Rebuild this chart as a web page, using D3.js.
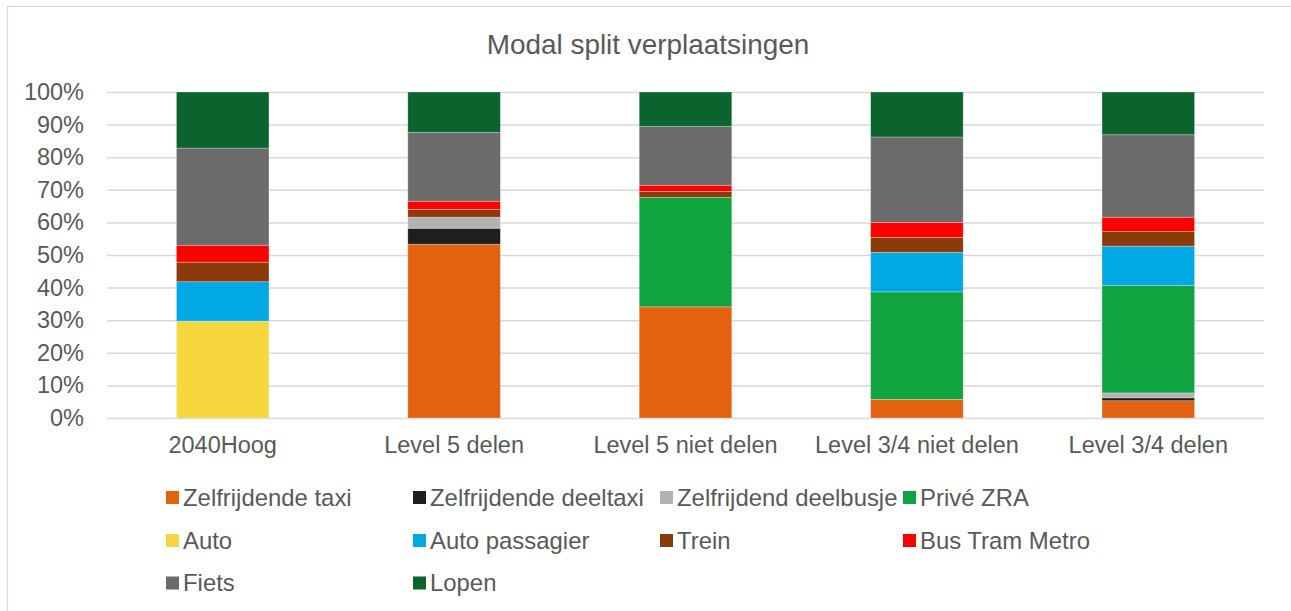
<!DOCTYPE html>
<html>
<head>
<meta charset="utf-8">
<script src="https://cdn.jsdelivr.net/npm/d3@7"></script>
<style>
  body { margin: 0; background: #fff; }
  text { font-family: "Liberation Sans", Arial, sans-serif; fill: #595959; }
</style>
</head>
<body>
<div id="chart"></div>
<script>
// data (percent of trips)
let categories = ["2040Hoog", "Level 5 delen", "Level 5 niet delen", "Level 3/4 niet delen", "Level 3/4 delen"];
let series = ["Zelfrijdende taxi", "Zelfrijdende deeltaxi", "Zelfrijdend deelbusje", "Privé ZRA",
              "Auto", "Auto passagier", "Trein", "Bus Tram Metro", "Fiets", "Lopen"];
let taxi       = [0,    53.3, 34.1, 5.7,  5.3];
let deeltaxi   = [0,    4.9,  0,    0,    0.9];
let deelbusje  = [0,    3.4,  0,    0,    1.5];
let priveZRA   = [0,    0,    33.6, 33.0, 33.0];
let auto       = [29.7, 0,    0,    0,    0];
let passagier  = [12.1, 0,    0,    12.1, 12.0];
let trein      = [6.0,  2.4,  1.8,  4.6,  4.5];
let btm        = [5.2,  2.5,  1.9,  4.6,  4.4];
let fiets      = [29.8, 21.1, 18.0, 26.2, 25.3];
let lopen      = [17.2, 12.4, 10.6, 13.8, 13.1];
let yTicks = [0, 10, 20, 30, 40, 50, 60, 70, 80, 90, 100];

let colors = ["#e36210", "#1e1e1e", "#b2b2b2", "#10a441", "#f6d83e",
              "#00a8e4", "#8b3a0a", "#ff0000", "#6b6b6b", "#0b642d"];

let width = 1291, height = 611;
let margin = {top: 92, right: 27, bottom: 193, left: 107};

let values = [taxi, deeltaxi, deelbusje, priveZRA, auto, passagier, trein, btm, fiets, lopen];
let rows = categories.map((c, i) => {
  let r = {cat: c};
  series.forEach((s, j) => r[s] = values[j][i]);
  return r;
});

let svg = d3.select("#chart")
            .append("svg")
            .attr("width", width)
            .attr("height", height);

svg.append("rect")
   .attr("x", 7.5).attr("y", 6.5)
   .attr("width", 1400).attr("height", 800)
   .attr("fill", "none")
   .attr("stroke", "#d9d9d9")
   .attr("stroke-width", 1.2);

let x = d3.scaleBand()
          .domain(categories)
          .range([margin.left, width - margin.right])
          .paddingInner(0.6)
          .paddingOuter(0.3);

let y = d3.scaleLinear()
          .domain([0, 100])
          .range([height - margin.bottom, margin.top]);

let z = d3.scaleOrdinal().domain(series).range(colors);

// gridlines + y labels
svg.append("g")
   .attr("transform", "translate(" + margin.left + ",0)")
   .call(d3.axisLeft(y).tickValues(yTicks).tickFormat(d => d + "%")
           .tickSize(-(width - margin.left - margin.right)).tickPadding(23))
   .call(g => g.select(".domain").remove())
   .call(g => g.selectAll(".tick line").attr("stroke", "#d9d9d9").attr("stroke-width", 1.5))
   .call(g => g.selectAll(".tick text")
               .style("font-size", "23.5px")
               .style("font-family", "Liberation Sans, Arial, sans-serif")
               .attr("fill", "#595959"));

// bars
svg.append("g")
   .selectAll("g")
   .data(d3.stack().keys(series)(rows))
   .join("g")
   .attr("fill", d => z(d.key))
   .selectAll("rect")
   .data(d => d.filter(v => v[1] - v[0] > 0))
   .join("rect")
   .attr("x", d => x(d.data.cat))
   .attr("y", d => y(d[1]))
   .attr("width", x.bandwidth())
   .attr("height", d => y(d[0]) - y(d[1]))
   .attr("stroke", "#ffffff")
   .attr("stroke-opacity", 0.35)
   .attr("stroke-width", 0.8);

// x labels
svg.append("g")
   .attr("transform", "translate(0," + (height - margin.bottom) + ")")
   .call(d3.axisBottom(x).tickSize(0).tickPadding(18))
   .call(g => g.select(".domain").remove())
   .call(g => g.selectAll(".tick text")
               .style("font-size", "23.5px")
               .style("font-family", "Liberation Sans, Arial, sans-serif")
               .attr("fill", "#595959"));

// title
svg.append("text")
   .attr("x", 648)
   .attr("y", 54)
   .attr("text-anchor", "middle")
   .style("font-size", "27.9px")
   .text("Modal split verplaatsingen");

// legend, 4 per row
let colX = [166, 413, 660, 903];
let rowY = [497.5, 540.5, 583];

let legend = svg.selectAll(".legend")
  .data(series)
  .join("g")
  .attr("class", "legend")
  .attr("transform", (d, i) => "translate(" + colX[i % 4] + "," + rowY[Math.floor(i / 4)] + ")");

legend.append("rect")
  .attr("x", 0)
  .attr("y", -6.5)
  .attr("width", 13)
  .attr("height", 13)
  .attr("fill", d => z(d));

legend.append("text")
  .attr("x", 17)
  .attr("y", 0)
  .attr("dy", ".35em")
  .style("font-size", "23.9px")
  .text(d => d);
</script>
</body>
</html>
